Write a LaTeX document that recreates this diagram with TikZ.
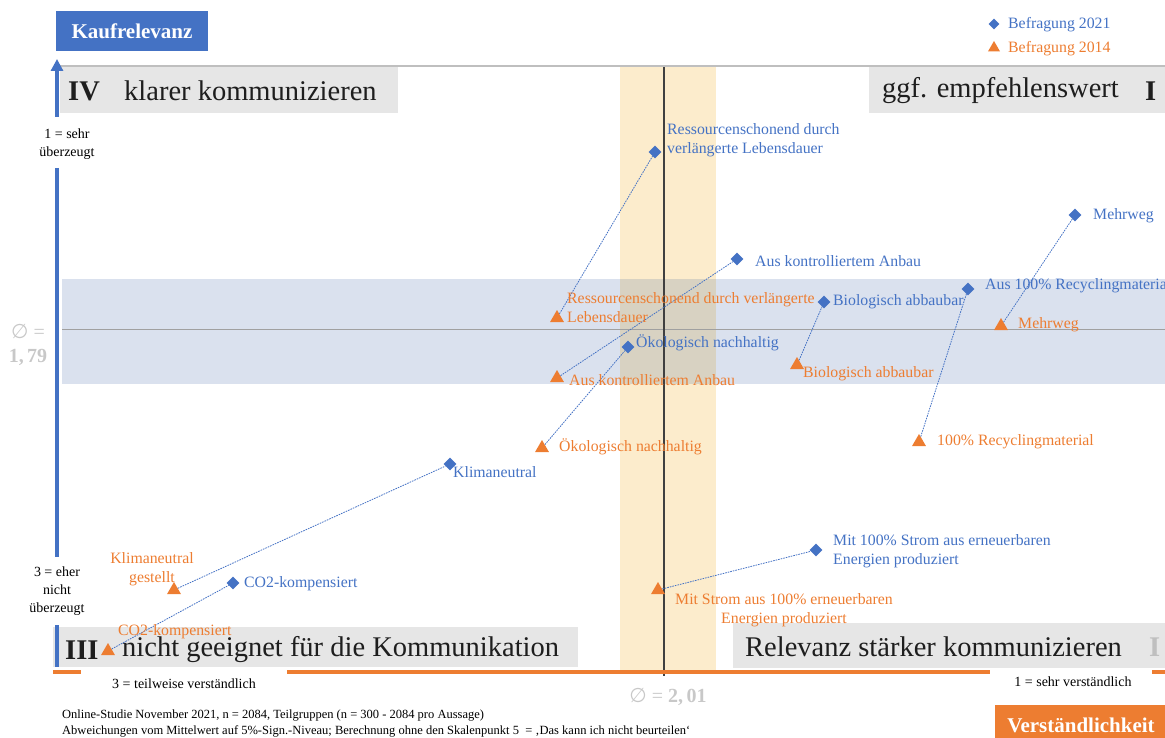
\documentclass[tikz,border=0pt]{standalone}
\usepackage{fontspec}
\setmainfont{Liberation Serif}
\newfontfamily\symfont{DejaVu Sans}
\usetikzlibrary{shapes.geometric,arrows.meta}
\definecolor{cblue}{RGB}{68,114,196}
\definecolor{corange}{RGB}{237,125,49}
\definecolor{bandblue}{RGB}{218,225,238}
\definecolor{bandorange}{RGB}{252,236,204}
\definecolor{bandmix}{RGB}{216,210,194}
\definecolor{qgray}{RGB}{230,230,230}
\definecolor{meangray}{RGB}{200,200,200}
\definecolor{qtext}{RGB}{30,30,30}
\definecolor{linegray}{RGB}{160,160,160}
\tikzset{
  bd/.style={diamond, fill=cblue, inner sep=0pt, minimum size=13pt},
  ot/.style={regular polygon, regular polygon sides=3, fill=corange, inner sep=0pt, minimum size=16pt},
  conn/.style={cblue, line width=0.8pt, dash pattern=on 1.6pt off 1pt},
  bl/.style={text=cblue, font=\fontsize{15.8}{19}\selectfont, inner sep=0pt, anchor=west, align=left},
  ol/.style={text=corange, font=\fontsize{15.8}{19}\selectfont, inner sep=0pt, anchor=west, align=left},
  qtxt/.style={text=qtext, font=\fontsize{28.5}{32}\selectfont, inner sep=0pt, anchor=west},
  qnum/.style={text=qtext, font=\bfseries\fontsize{28.5}{32}\selectfont, inner sep=0pt, anchor=west},
  axlbl/.style={text=black, font=\fontsize{14}{18}\selectfont, inner sep=0pt, align=center},
  meanlbl/.style={text=meangray, font=\fontsize{20}{24}\selectfont, inner sep=0pt, align=center},
  foot/.style={font=\fontsize{12.5}{14}\selectfont, inner sep=0pt, anchor=west},
  titlebox/.style={text=white, font=\bfseries\fontsize{21}{24}\selectfont, inner sep=0pt}
}
\begin{document}
\begin{tikzpicture}[x=1pt,y=-1pt]
\useasboundingbox (0,0) rectangle (1165,738);
\clip (0,0) rectangle (1165,738);
% bands
\fill[bandblue] (62,279) rectangle (1165,384);
\fill[bandorange] (620,67) rectangle (716,670);
\fill[bandmix] (620,279) rectangle (716,384);
% mean lines
\draw[linegray, line width=1pt] (62,329) -- (1165,329);
\draw[black!75, line width=1.3pt] (664,67) -- (664,676);
% top line
\draw[black!25, line width=2pt] (60,66) -- (1165,66);
% quadrant boxes
\fill[qgray] (60,67) rectangle (398,113);
\fill[qgray] (869,67) rectangle (1165,113);
\fill[qgray] (53,627) rectangle (578,667);
\fill[qgray] (733,623) rectangle (1165,668);
\node[qnum] (q4n) at (68,91) {IV};
\node[qtxt] (q4t) at (124,91) {klarer kommunizieren};
\node[qtxt] (q1t) at (882,91) {ggf. empfehlenswert};
\node[qnum] (q1n) at (1145,91) {I};
\node[qnum] (q3n) at (65,650) {III};
\node[qtxt] (q3t) at (122,650) {nicht geeignet für die Kommunikation};
\node[qtxt] (q2t) at (745,647) {Relevanz stärker kommunizieren};
\node[qnum, text=black!25] (q2n) at (1149,647) {I};
% axes
\coordinate (ya1) at (57,117);
\coordinate (ya0) at (57,59);
\draw[cblue, line width=4pt, -{Triangle[width=12pt,length=12pt]}] (ya1) -- (ya0);
\draw[cblue, line width=4pt] (57,168) -- (57,557);
\draw[cblue, line width=4pt] (57,625) -- (57,667);
\draw[corange, line width=3.5pt] (53,672) -- (1165,672);
\fill[white] (81,668) rectangle (287,697);
\fill[white] (990,668) rectangle (1152,697);
\node[axlbl] (ax1) at (67,144) {1 = sehr\\überzeugt};
\node[axlbl] (ax3) at (57,591) {3 = eher\\nicht\\überzeugt};
\node[axlbl] (ax3x) at (184,684) {3 = teilweise verständlich};
\node[axlbl] (ax1x) at (1073,682) {1 = sehr verständlich};
% titles
\node[titlebox, fill=cblue, minimum width=152pt, minimum height=40pt] (kauf) at (132,31) {Kaufrelevanz};
\node[titlebox, fill=corange, minimum width=172pt, minimum height=40pt] (verst) at (1081,725) {Verständlichkeit};
% means
\node[meanlbl] (m1) at (28,345) {{\symfont ∅} =\\\textbf{1,\,79}};
\node[meanlbl] (m2) at (668,697) {{\symfont ∅} = \textbf{2,\,01}};
% legend
\node[bd, minimum size=11pt] (lg1) at (994,24) {};
\node[bl] (lg1t) at (1008,25) {Befragung 2021};
\node[ot, minimum size=14pt] (lg2) at (994,48) {};
\node[ol] (lg2t) at (1008,49) {Befragung 2014};
% markers
\node[bd] (b1) at (655,152) {};
\node[bd] (b2) at (737,259) {};
\node[bd] (b3) at (628,347) {};
\node[bd] (b4) at (824,302) {};
\node[bd] (b5) at (968,289) {};
\node[bd] (b6) at (1075,215) {};
\node[bd] (b7) at (450,464) {};
\node[bd] (b8) at (233,583) {};
\node[bd] (b9) at (816,550) {};
\node[ot] (o1) at (557,318) {};
\node[ot] (o2) at (557,378) {};
\node[ot] (o3) at (542,448) {};
\node[ot] (o4) at (797,365) {};
\node[ot] (o5) at (919,442) {};
\node[ot] (o6) at (1001,326) {};
\node[ot] (o7) at (174,590) {};
\node[ot] (o8) at (108,651) {};
\node[ot] (o9) at (658,590) {};
% connectors
\foreach \i in {1,...,9} {\draw[conn] (o\i) -- (b\i);}
% labels 2021
\node[bl] (lb1) at (667,140) {Ressourcenschonend durch\\verlängerte Lebensdauer};
\node[bl] (lb2) at (755,261) {Aus kontrolliertem Anbau};
\node[bl] (lb3) at (636,343) {Ökologisch nachhaltig};
\node[bl] (lb4) at (833,302) {Biologisch abbaubar};
\node[bl] (lb5) at (985,286) {Aus 100\% Recyclingmaterial};
\node[bl] (lb6) at (1093,216) {Mehrweg};
\node[bl] (lb7) at (453,472) {Klimaneutral};
\node[bl] (lb8) at (244,584) {CO2-kompensiert};
\node[bl] (lb9) at (833,551) {Mit 100\% Strom aus erneuerbaren\\Energien produziert};
% labels 2014
\node[ol] (lo1) at (567,307.5) {Ressourcenschonend durch verlängerte\\Lebensdauer};
\node[ol] (lo2) at (569,380) {Aus kontrolliertem Anbau};
\node[ol] (lo3) at (559,447) {Ökologisch nachhaltig};
\node[ol] (lo4) at (803,374) {Biologisch abbaubar};
\node[ol] (lo5) at (937,442) {100\% Recyclingmaterial};
\node[ol] (lo6) at (1018,325) {Mehrweg};
\node[ol, anchor=center, align=center] (lo7) at (152,569.5) {Klimaneutral\\gestellt};
\node[ol] (lo8) at (118,632) {CO2-kompensiert};
\node[ol, align=center] (lo9) at (675,610) {Mit Strom aus 100\% erneuerbaren\\Energien produziert};
% footnote
\node[foot] (f1) at (62,716) {Online-Studie November 2021, n = 2084, Teilgruppen (n = 300 - 2084 pro Aussage)};
\node[foot] (f2) at (62,731) {Abweichungen vom Mittelwert auf 5\%-Sign.-Niveau; Berechnung ohne den Skalenpunkt 5\enspace= ‚Das kann ich nicht beurteilen‘};
\end{tikzpicture}
\end{document}
